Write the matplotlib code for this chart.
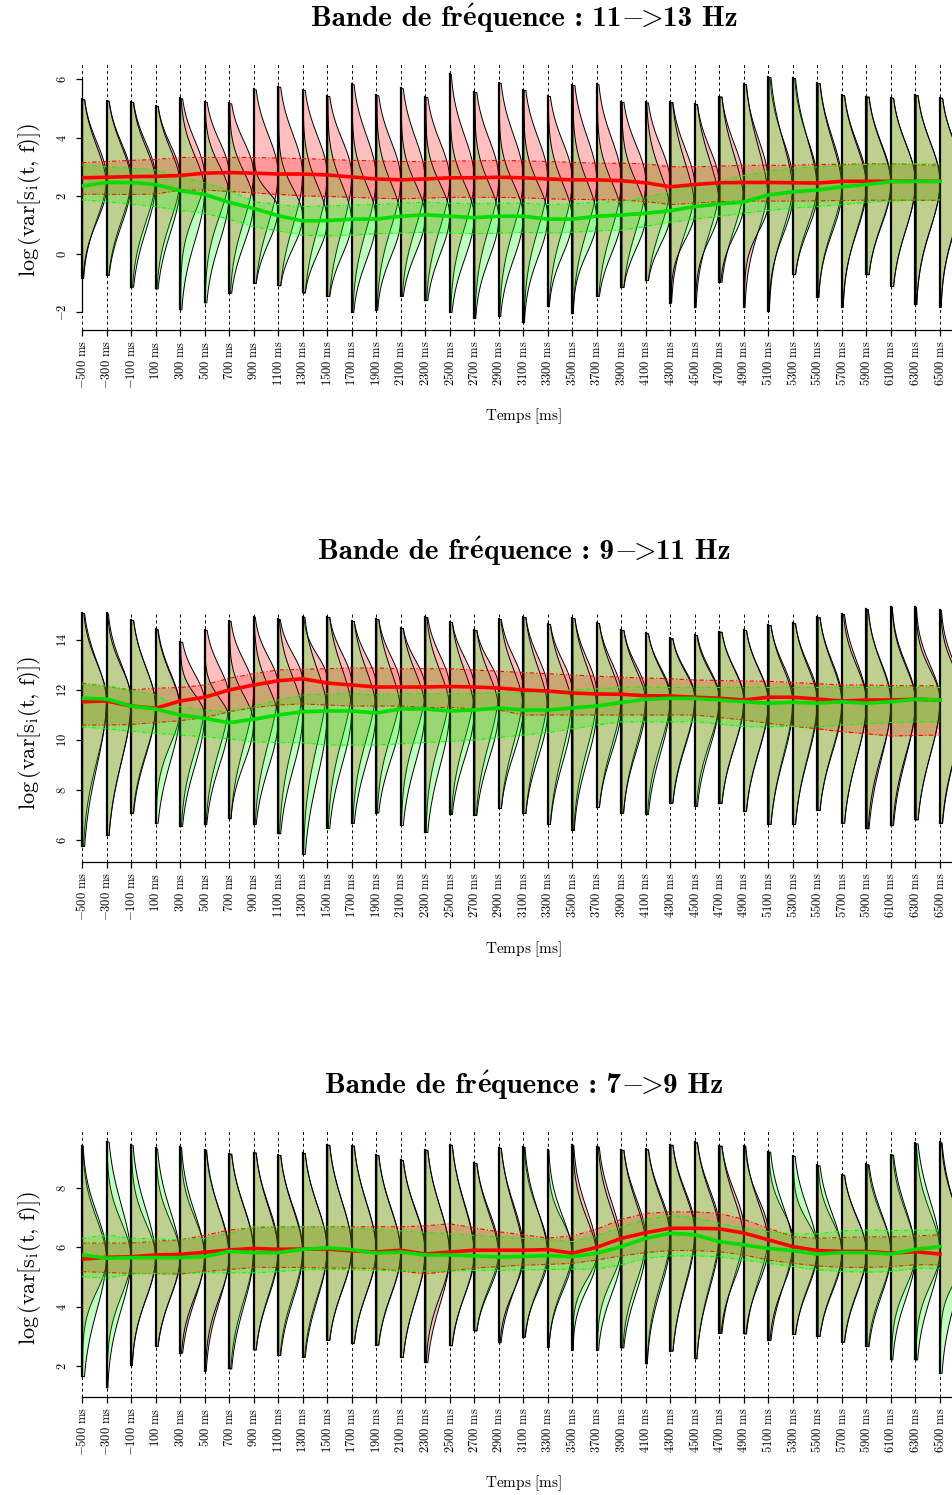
import numpy as np
import matplotlib
matplotlib.use('Agg')
import matplotlib.pyplot as plt

plt.rcParams['mathtext.fontset'] = 'cm'
plt.rcParams['font.family'] = ['DejaVu Serif']
plt.rcParams['axes.unicode_minus'] = True

# time points (ms)
times = list(range(-500, 6501, 200))
tick_labels = [r'$%d\ \mathrm{ms}$' % t for t in times]

# ---- 11 -> 13 Hz ----
red_med1 = [2.62, 2.64, 2.66, 2.67, 2.70, 2.78, 2.80, 2.78, 2.75, 2.75, 2.72, 2.65, 2.58, 2.55, 2.58, 2.62, 2.62, 2.64,
            2.62, 2.58, 2.55, 2.55, 2.52, 2.45, 2.31, 2.39, 2.45, 2.46, 2.46, 2.45, 2.44, 2.50, 2.50, 2.50, 2.50, 2.50]
red_hi1 = [3.14, 3.18, 3.22, 3.25, 3.32, 3.32, 3.32, 3.32, 3.30, 3.28, 3.25, 3.22, 3.20, 3.18, 3.18, 3.20, 3.20, 3.22,
           3.20, 3.18, 3.15, 3.12, 3.12, 3.10, 3.00, 3.00, 3.02, 3.05, 3.05, 3.05, 3.08, 3.08, 3.10, 3.10, 3.08, 3.05]
red_lo1 = [2.06, 2.05, 2.05, 2.06, 2.20, 2.20, 2.15, 2.10, 2.05, 2.00, 1.98, 1.95, 1.92, 1.90, 1.92, 1.95, 1.95, 1.95,
           1.93, 1.90, 1.88, 1.87, 1.86, 1.80, 1.70, 1.75, 1.80, 1.82, 1.82, 1.82, 1.83, 1.84, 1.85, 1.85, 1.85, 1.85]
green_med1 = [2.34, 2.46, 2.46, 2.39, 2.18, 2.05, 1.78, 1.57, 1.32, 1.14, 1.15, 1.20, 1.20, 1.30, 1.35, 1.30, 1.25, 1.30,
              1.30, 1.20, 1.20, 1.30, 1.34, 1.40, 1.49, 1.63, 1.72, 1.79, 2.03, 2.14, 2.20, 2.31, 2.39, 2.49, 2.50, 2.50]
green_hi1 = [3.06, 3.00, 2.95, 2.89, 2.66, 2.45, 2.20, 1.80, 1.70, 1.63, 1.65, 1.68, 1.70, 1.75, 1.78, 1.75, 1.72, 1.75,
             1.75, 1.70, 1.72, 1.78, 1.80, 1.95, 2.15, 2.35, 2.50, 2.70, 2.85, 2.95, 3.00, 3.05, 3.08, 3.10, 3.10, 3.10]
green_lo1 = [1.86, 1.80, 1.72, 1.63, 1.50, 1.40, 1.20, 0.94, 0.80, 0.65, 0.62, 0.65, 0.70, 0.72, 0.75, 0.72, 0.70, 0.72,
             0.75, 0.72, 0.75, 0.80, 0.82, 0.95, 1.10, 1.20, 1.30, 1.40, 1.50, 1.58, 1.63, 1.70, 1.78, 1.82, 1.86, 1.86]
top1 = [5.32, 5.27, 5.23, 5.09, 5.35, 5.23, 5.18, 5.66, 5.75, 5.64, 5.43, 5.84, 5.46, 5.70, 5.40, 6.19, 5.57, 5.88,
        5.64, 5.43, 5.81, 5.84, 5.23, 5.21, 5.22, 5.15, 5.41, 5.84, 6.08, 6.05, 5.88, 5.46, 5.41, 5.37, 5.46, 5.37]
bot1 = [-0.82, -0.72, -1.12, -1.18, -1.90, -1.66, -1.33, -0.99, -1.07, -1.32, -1.44, -1.99, -1.92, -1.44, -1.58, -1.99,
        -2.20, -2.13, -2.34, -1.79, -2.03, -1.44, -1.13, -0.89, -1.67, -1.82, -0.95, -1.82, -1.95, -0.69, -1.47, -1.81,
        -0.69, -1.10, -1.72, -1.81]

# ---- 9 -> 11 Hz ----
red_med2 = [11.53, 11.56, 11.36, 11.27, 11.56, 11.71, 12.00, 12.20, 12.37, 12.45, 12.28, 12.20, 12.12, 12.12, 12.12,
            12.14, 12.12, 12.08, 12.00, 11.96, 11.88, 11.84, 11.83, 11.77, 11.76, 11.71, 11.67, 11.60, 11.71, 11.71,
            11.64, 11.56, 11.60, 11.60, 11.63, 11.60]
red_hi2 = [12.27, 12.15, 12.00, 12.07, 12.10, 12.20, 12.47, 12.65, 12.80, 12.83, 12.85, 12.88, 12.88, 12.85, 12.85,
           12.85, 12.80, 12.75, 12.70, 12.65, 12.60, 12.55, 12.51, 12.48, 12.45, 12.40, 12.38, 12.36, 12.35, 12.30,
           12.25, 12.20, 12.20, 12.18, 12.17, 12.17]
red_lo2 = [10.60, 10.60, 10.62, 10.70, 10.77, 10.90, 11.13, 11.30, 11.40, 11.44, 11.40, 11.36, 11.36, 11.36, 11.30,
           11.30, 11.25, 11.20, 11.00, 11.00, 11.00, 11.00, 11.00, 11.00, 11.00, 11.00, 10.90, 10.80, 10.67, 10.55,
           10.45, 10.33, 10.25, 10.16, 10.18, 10.20]
green_med2 = [11.67, 11.64, 11.36, 11.24, 11.00, 10.87, 10.69, 10.83, 11.00, 11.13, 11.16, 11.16, 11.08, 11.24, 11.24,
              11.16, 11.20, 11.28, 11.20, 11.20, 11.28, 11.36, 11.50, 11.63, 11.67, 11.66, 11.60, 11.53, 11.47, 11.51,
              11.47, 11.53, 11.47, 11.53, 11.63, 11.60]
green_hi2 = [12.24, 12.16, 12.00, 11.80, 11.33, 11.20, 11.13, 11.36, 11.60, 11.80, 11.85, 11.85, 11.80, 11.85, 11.85,
             11.85, 11.85, 11.90, 11.90, 11.95, 12.00, 12.05, 12.11, 12.12, 12.10, 12.10, 12.10, 12.10, 12.10, 12.10,
             12.10, 12.10, 12.10, 12.10, 12.10, 12.10]
green_lo2 = [10.53, 10.45, 10.35, 10.27, 10.20, 10.13, 10.05, 9.93, 9.90, 9.89, 9.80, 9.80, 9.80, 9.85, 9.90, 9.95,
             10.00, 10.10, 10.20, 10.30, 10.45, 10.60, 10.73, 10.73, 10.73, 10.73, 10.65, 10.53, 10.53, 10.55, 10.53,
             10.60, 10.65, 10.70, 10.73, 10.73]
top2 = [15.08, 15.07, 14.80, 14.43, 13.93, 14.40, 14.77, 14.93, 14.83, 14.93, 14.92, 14.76, 14.84, 14.48, 14.92, 14.72,
        14.40, 14.84, 14.92, 14.64, 14.88, 14.68, 14.40, 14.27, 14.07, 14.20, 14.33, 14.40, 14.60, 14.67, 14.91, 15.04,
        15.23, 15.33, 15.31, 15.20]
bot2 = [5.76, 6.20, 7.09, 6.69, 6.56, 6.64, 6.87, 6.64, 6.27, 5.44, 6.48, 6.68, 7.10, 6.60, 6.32, 7.04, 7.00, 7.28,
        7.08, 6.64, 6.40, 7.32, 7.09, 7.04, 7.49, 7.36, 7.49, 7.17, 6.64, 6.64, 7.20, 6.69, 6.47, 6.60, 6.83, 6.69]

# ---- 7 -> 9 Hz ----
red_med3 = [5.60, 5.66, 5.68, 5.74, 5.76, 5.83, 5.91, 5.96, 5.93, 5.94, 5.94, 5.88, 5.84, 5.90, 5.77, 5.84, 5.90, 5.90,
            5.90, 5.92, 5.80, 6.00, 6.30, 6.49, 6.64, 6.64, 6.62, 6.48, 6.25, 6.02, 5.89, 5.86, 5.86, 5.80, 5.85, 5.77]
red_hi3 = [6.14, 6.14, 6.14, 6.20, 6.25, 6.40, 6.58, 6.65, 6.69, 6.69, 6.69, 6.69, 6.69, 6.69, 6.72, 6.79, 6.65, 6.52,
           6.42, 6.31, 6.38, 6.61, 6.94, 7.14, 7.19, 7.19, 7.14, 6.94, 6.64, 6.36, 6.30, 6.33, 6.35, 6.35, 6.38, 6.42]
red_lo3 = [5.18, 5.15, 5.12, 5.11, 5.10, 5.18, 5.25, 5.32, 5.32, 5.32, 5.30, 5.30, 5.28, 5.20, 5.10, 5.20, 5.30, 5.35,
           5.40, 5.42, 5.46, 5.57, 5.71, 5.82, 5.89, 5.89, 5.85, 5.74, 5.57, 5.46, 5.37, 5.32, 5.32, 5.35, 5.41, 5.41]
green_med3 = [5.74, 5.63, 5.65, 5.65, 5.65, 5.68, 5.86, 5.82, 5.82, 5.93, 5.98, 5.92, 5.80, 5.84, 5.74, 5.74, 5.71,
              5.67, 5.69, 5.72, 5.68, 5.80, 6.02, 6.30, 6.47, 6.42, 6.19, 6.08, 5.96, 5.89, 5.77, 5.82, 5.82, 5.77,
              5.93, 6.02]
green_hi3 = [6.30, 6.42, 6.30, 6.28, 6.25, 6.30, 6.47, 6.69, 6.69, 6.69, 6.69, 6.65, 6.60, 6.55, 6.50, 6.45, 6.40, 6.35,
             6.30, 6.25, 6.19, 6.38, 6.69, 6.94, 7.07, 7.00, 6.81, 6.64, 6.53, 6.45, 6.45, 6.55, 6.58, 6.56, 6.58, 6.58]
green_lo3 = [5.01, 4.96, 5.10, 5.12, 5.14, 5.14, 5.14, 5.14, 5.18, 5.24, 5.25, 5.25, 5.22, 5.20, 5.20, 5.20, 5.22, 5.22,
             5.24, 5.25, 5.26, 5.26, 5.41, 5.63, 5.71, 5.71, 5.68, 5.57, 5.46, 5.35, 5.24, 5.18, 5.16, 5.18, 5.29, 5.29]
top3 = [9.42, 9.56, 9.45, 9.33, 9.37, 9.28, 9.15, 9.19, 9.11, 9.17, 9.45, 9.42, 9.11, 8.94, 9.28, 9.45, 8.84, 9.35,
        9.38, 9.28, 9.45, 9.39, 9.28, 9.30, 9.45, 9.53, 9.42, 9.42, 9.22, 9.08, 8.76, 8.44, 8.79, 9.12, 9.50, 9.53]
bot3 = [1.66, 1.28, 2.03, 2.67, 2.45, 1.84, 1.92, 2.56, 2.37, 2.31, 2.88, 2.78, 2.72, 2.30, 2.13, 2.70, 3.20, 2.80,
        2.98, 2.64, 2.54, 2.54, 2.63, 2.09, 2.52, 2.26, 3.12, 3.10, 2.88, 3.08, 3.01, 2.82, 2.67, 2.22, 2.22, 1.77]

W = 953.0
H = 1495.0
XMAX = 6606
BEAN_W = 195


def half_bean(y, med, lo, hi, ymin, ymax):
    # smooth skewed bell built from the median, the band and the data range
    s_up = min(2.5 * max(hi - med, 0.1), (ymax - med) / 2.2)
    s_dn = min(2.5 * max(med - lo, 0.1), (med - ymin) / 2.2)
    z = np.where(y >= med, (y - med) / s_up, (y - med) / s_dn)
    return np.exp(-0.5 * z ** 2)


def draw_panel(ax, yticks, ylim, red, green, top, bot):
    ax.set_xlim(-500, XMAX)
    ax.set_ylim(*ylim)
    for t in times:
        ax.axvline(t, color='black', lw=0.7, ls=(0, (3, 3)), zorder=1)

    for i, t in enumerate(times):
        y = np.linspace(bot[i], top[i], 250)
        for (med, lo, hi), fc in ((red[0][i], red[1][i], red[2][i]), (1, 0, 0, 0.25)), \
                                 ((green[0][i], green[1][i], green[2][i]), (0, 1, 0, 0.25)):
            f = half_bean(y, med, lo, hi, bot[i], top[i])
            f = f / f.max()
            ax.fill_betweenx(y, t, t + BEAN_W * f, facecolor=fc, edgecolor='black',
                             lw=0.7, zorder=2, clip_on=False)
        ax.plot([t, t], [bot[i], top[i]], color='black', lw=1.6, zorder=3, clip_on=False)

    for (med, lo, hi), col in ((red, '#FF0000'), (green, '#00FF00')):
        ax.fill_between(times, lo, hi, color=col, alpha=0.2, lw=0, zorder=4)
        ax.plot(times, lo, color=col, lw=0.8, ls=(0, (4, 2, 1, 2)), zorder=4)
        ax.plot(times, hi, color=col, lw=0.8, ls=(0, (4, 2, 1, 2)), zorder=4)
    ax.plot(times, red[0], color='#FF0000', lw=2.6, zorder=5)
    ax.plot(times, green[0], color='#00DD00', lw=2.6, zorder=6)

    for s in ('top', 'right'):
        ax.spines[s].set_visible(False)
    ax.spines['left'].set_bounds(yticks[0], yticks[-1])
    ax.spines['bottom'].set_bounds(-500, XMAX)
    ax.spines['left'].set_linewidth(0.9)
    ax.spines['bottom'].set_linewidth(0.9)
    ax.set_xticks(times)
    ax.set_xticklabels(tick_labels, rotation=90, fontsize=9, va='top')
    ax.set_yticks(yticks)
    ax.set_yticklabels([r'$%d$' % v for v in yticks], rotation=90, va='center', fontsize=9)
    ax.tick_params(axis='both', direction='out', length=4.5, width=0.9, pad=3)
    ax.tick_params(axis='y', pad=5)


def draw_title(fig, xc, y_base, f_lo, f_hi, size=21):
    # bold CM text, with the accent and the arrow taken from mathtext
    bold = {'family': 'cmb10'}
    pieces = [('Bande de fr', bold), (r'$\mathbf{\acute{e}}$', {}), ('quence : ' + f_lo, bold),
              (r'$-\!\!>\!$', {}), (f_hi + ' Hz', bold)]
    renderer = fig.canvas.get_renderer()
    arts = [fig.text(0, 1 - y_base / H, s, ha='left', va='baseline', fontsize=size, **kw)
            for s, kw in pieces]
    widths = [a.get_window_extent(renderer).width for a in arts]
    x = xc - sum(widths) / 2
    for a, w in zip(arts, widths):
        a.set_x(x / W)
        x += w


panels = [
    ('11', '13', 330, 62, [-2, 0, 2, 4, 6], (-2.61, 6.60),
     (red_med1, red_lo1, red_hi1), (green_med1, green_lo1, green_hi1), top1, bot1, 26, 416, 200),
    ('9', '11', 862, 612, [6, 8, 10, 12, 14], (5.12, 15.12),
     (red_med2, red_lo2, red_hi2), (green_med2, green_lo2, green_hi2), top2, bot2, 559, 949, 733),
    ('7', '9', 1397, 1130, [2, 4, 6, 8], (0.955, 9.95),
     (red_med3, red_lo3, red_hi3), (green_med3, green_lo3, green_hi3), top3, bot3, 1093, 1483, 1268),
]

fig = plt.figure(figsize=(9.53, 14.95), dpi=100)
for f_lo, f_hi, ybot, ytop, yt, ylim, red, green, top, bot, ty, xly, yly in panels:
    ax = fig.add_axes([82 / W, 1 - ybot / H, (W - 82) / W, (ybot - ytop) / H])
    draw_panel(ax, yt, ylim, red, green, top, bot)
    draw_title(fig, 524, ty, f_lo, f_hi)
    fig.text(523 / W, 1 - xly / H, r'$\mathrm{Temps\ [ms]}$', ha='center', va='center', fontsize=11)
    fig.text(30 / W, 1 - yly / H, r'$\log\left(\mathrm{var}\left[\mathrm{s_i(t,\,f)}\right]\right)$',
             ha='center', va='center', rotation=90, fontsize=16)

fig.savefig('out.png', dpi=100)
